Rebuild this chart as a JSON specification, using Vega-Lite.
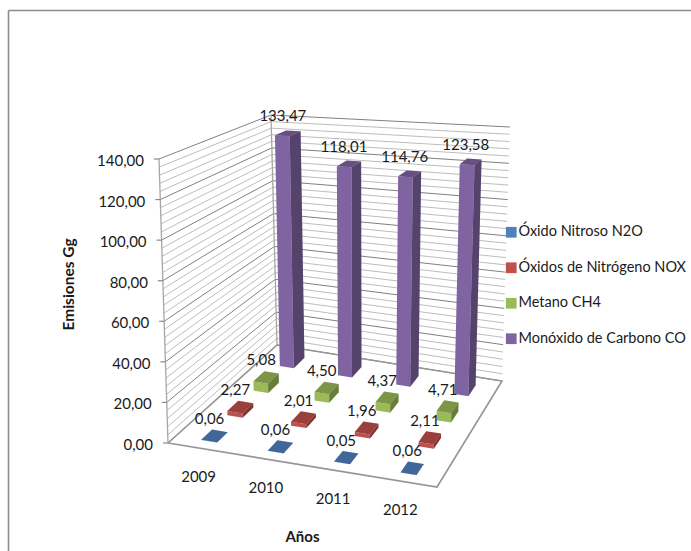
{
  "$schema": "https://vega.github.io/schema/vega-lite/v6.json",
  "width": 691,
  "height": 551,
  "autosize": {"type": "fit", "contains": "padding"},
  "padding": {"left": 8, "top": 10, "right": 0, "bottom": 0},
  "background": "white",
  "config": {"view": {"stroke": null}, "text": {"font": "Lato", "fontSize": 15, "fill": "#1a1a1a"}},
  "datasets": {
    "emisiones": [
      {"year": 2009, "series": "Óxido Nitroso N2O", "value": 0.06},
      {"year": 2010, "series": "Óxido Nitroso N2O", "value": 0.06},
      {"year": 2011, "series": "Óxido Nitroso N2O", "value": 0.05},
      {"year": 2012, "series": "Óxido Nitroso N2O", "value": 0.06},
      {"year": 2009, "series": "Óxidos de Nitrógeno NOX", "value": 2.27},
      {"year": 2010, "series": "Óxidos de Nitrógeno NOX", "value": 2.01},
      {"year": 2011, "series": "Óxidos de Nitrógeno NOX", "value": 1.96},
      {"year": 2012, "series": "Óxidos de Nitrógeno NOX", "value": 2.11},
      {"year": 2009, "series": "Metano CH4", "value": 5.08},
      {"year": 2010, "series": "Metano CH4", "value": 4.5},
      {"year": 2011, "series": "Metano CH4", "value": 4.37},
      {"year": 2012, "series": "Metano CH4", "value": 4.71},
      {"year": 2009, "series": "Monóxido de Carbono CO", "value": 133.47},
      {"year": 2010, "series": "Monóxido de Carbono CO", "value": 118.01},
      {"year": 2011, "series": "Monóxido de Carbono CO", "value": 114.76},
      {"year": 2012, "series": "Monóxido de Carbono CO", "value": 123.58}
    ],
    "escala": [
      {"tick": 0}, {"tick": 4}, {"tick": 8}, {"tick": 12}, {"tick": 16}, {"tick": 20},
      {"tick": 24}, {"tick": 28}, {"tick": 32}, {"tick": 36}, {"tick": 40},
      {"tick": 44}, {"tick": 48}, {"tick": 52}, {"tick": 56}, {"tick": 60},
      {"tick": 64}, {"tick": 68}, {"tick": 72}, {"tick": 76}, {"tick": 80},
      {"tick": 84}, {"tick": 88}, {"tick": 92}, {"tick": 96}, {"tick": 100},
      {"tick": 104}, {"tick": 108}, {"tick": 112}, {"tick": 116}, {"tick": 120},
      {"tick": 124}, {"tick": 128}, {"tick": 132}, {"tick": 136}, {"tick": 140}
    ]
  },
  "encoding": {
    "x": {
      "field": "sx", "type": "quantitative",
      "scale": {"domain": [8, 691], "nice": false, "zero": false},
      "axis": {"orient": "top", "title": "Años", "labels": false, "ticks": false, "grid": false,
        "domainColor": "#8c8c8c", "domainWidth": 1.6,
        "titleFont": "Lato", "titleFontSize": 15, "titleFontWeight": "bold", "titleColor": "#1a1a1a",
        "titleAlign": "center", "titleBaseline": "middle", "titleX": 294, "titleY": 526}
    },
    "y": {
      "field": "sy", "type": "quantitative",
      "scale": {"domain": [551, 10], "nice": false, "zero": false},
      "axis": {"orient": "left", "title": "Emisiones Gg", "labels": false, "ticks": false, "grid": false,
        "domainColor": "#8c8c8c", "domainWidth": 1.6,
        "titleFont": "Lato", "titleFontSize": 15.5, "titleFontWeight": "bold", "titleColor": "#1a1a1a",
        "titleAlign": "center", "titleBaseline": "middle", "titleX": 60, "titleY": 274}
    }
  },
  "layer": [
    {
      "data": {"name": "escala"},
      "transform": [
        {"calculate": "[0,1,2]", "as": "vertex"},
        {"flatten": ["vertex"]},
        {"calculate": "datum.vertex==2?1:0", "as": "u"},
        {"calculate": "datum.vertex==0?0:1", "as": "v"},
        {"calculate": "datum.tick/140", "as": "w"},
        {"calculate": "(1-datum.u)*(1-datum.v)*(168-9*datum.w)+datum.u*(1-datum.v)*(437+10*datum.w)+(1-datum.u)*datum.v*(277-6*datum.w)+datum.u*datum.v*(502+8*datum.w)", "as": "sx"},
        {"calculate": "(1-datum.u)*(1-datum.v)*(443-284*datum.w)+datum.u*(1-datum.v)*(487-310*datum.w)+(1-datum.u)*datum.v*(345-230*datum.w)+datum.u*datum.v*(381-254*datum.w)", "as": "sy"}
      ],
      "mark": {"type": "line", "strokeWidth": 1},
      "encoding": {
        "detail": {"field": "tick"},
        "order": {"field": "vertex"},
        "stroke": {"condition": {"test": "datum.tick%20==0", "value": "#808080"}, "value": "#bdbdbd"}
      }
    },
    {
      "data": {"name": "escala"},
      "transform": [
        {"calculate": "[0,1]", "as": "edge"},
        {"flatten": ["edge"]},
        {"calculate": "0", "as": "u"},
        {"calculate": "datum.edge", "as": "v"},
        {"calculate": "datum.tick/140", "as": "w"},
        {"calculate": "(1-datum.u)*(1-datum.v)*(168-9*datum.w)+datum.u*(1-datum.v)*(437+10*datum.w)+(1-datum.u)*datum.v*(277-6*datum.w)+datum.u*datum.v*(502+8*datum.w)", "as": "sx"},
        {"calculate": "(1-datum.u)*(1-datum.v)*(443-284*datum.w)+datum.u*(1-datum.v)*(487-310*datum.w)+(1-datum.u)*datum.v*(345-230*datum.w)+datum.u*datum.v*(381-254*datum.w)", "as": "sy"}
      ],
      "mark": {"type": "line", "strokeWidth": 1.3, "stroke": "#a6a6a6"},
      "encoding": {"detail": {"field": "edge"}, "order": {"field": "tick"}}
    },
    {
      "data": {"name": "escala"},
      "transform": [
        {"filter": "datum.tick==0"},
        {"calculate": "[0,1,2,3,4]", "as": "vertex"},
        {"flatten": ["vertex"]},
        {"calculate": "(datum.vertex==1||datum.vertex==2)?1:0", "as": "u"},
        {"calculate": "(datum.vertex==2||datum.vertex==3)?1:0", "as": "v"},
        {"calculate": "0", "as": "w"},
        {"calculate": "(1-datum.u)*(1-datum.v)*(168-9*datum.w)+datum.u*(1-datum.v)*(437+10*datum.w)+(1-datum.u)*datum.v*(277-6*datum.w)+datum.u*datum.v*(502+8*datum.w)", "as": "sx"},
        {"calculate": "(1-datum.u)*(1-datum.v)*(443-284*datum.w)+datum.u*(1-datum.v)*(487-310*datum.w)+(1-datum.u)*datum.v*(345-230*datum.w)+datum.u*datum.v*(381-254*datum.w)", "as": "sy"}
      ],
      "mark": {"type": "line", "strokeWidth": 1.6, "stroke": "#969696"},
      "encoding": {"order": {"field": "vertex"}}
    },
    {
      "data": {"name": "escala"},
      "transform": [
        {"filter": "datum.tick%20==0"},
        {"calculate": "168-9*datum.tick/140", "as": "sx"},
        {"calculate": "443-284*datum.tick/140", "as": "sy"},
        {"calculate": "datum.sx-5", "as": "tx"}
      ],
      "mark": {"type": "rule", "stroke": "#8a8a8a", "strokeWidth": 1.2},
      "encoding": {"x2": {"field": "tx"}}
    },
    {
      "data": {"name": "escala"},
      "transform": [
        {"filter": "datum.tick%20==0"},
        {"calculate": "168-9*datum.tick/140", "as": "sx"},
        {"calculate": "443-284*datum.tick/140", "as": "sy"},
        {"calculate": "replace(format(datum.tick,'.2f'),'.',',')", "as": "label"}
      ],
      "mark": {"type": "text", "align": "right", "baseline": "middle", "dx": -15, "dy": 2},
      "encoding": {"text": {"field": "label"}}
    },
    {
      "data": {"name": "emisiones"},
      "transform": [
        {"calculate": "['front','side','top']", "as": "face"},
        {"flatten": ["face"]},
        {"calculate": "[0,1,2,3]", "as": "corner"},
        {"flatten": ["corner"]},
        {"calculate": "(datum.year-2009+0.5)/4+0.03*(datum.face=='side'?1:((datum.corner==0||datum.corner==3)?-1:1))", "as": "u"},
        {"calculate": "(indexof(['Óxido Nitroso N2O','Óxidos de Nitrógeno NOX','Metano CH4','Monóxido de Carbono CO'],datum.series)+0.5)/4+0.052*(datum.face=='front'?-1:(datum.face=='side'?((datum.corner==0||datum.corner==3)?-1:1):(datum.corner<2?-1:1)))", "as": "v"},
        {"calculate": "datum.value/140*((datum.face=='top'||datum.corner>=2)?1:0)", "as": "w"},
        {"calculate": "(1-datum.u)*(1-datum.v)*(168-9*datum.w)+datum.u*(1-datum.v)*(437+10*datum.w)+(1-datum.u)*datum.v*(277-6*datum.w)+datum.u*datum.v*(502+8*datum.w)", "as": "sx"},
        {"calculate": "(1-datum.u)*(1-datum.v)*(443-284*datum.w)+datum.u*(1-datum.v)*(487-310*datum.w)+(1-datum.u)*datum.v*(345-230*datum.w)+datum.u*datum.v*(381-254*datum.w)", "as": "sy"}
      ],
      "mark": {"type": "line", "strokeWidth": 0, "fillOpacity": 1},
      "encoding": {
        "detail": [{"field": "year"}, {"field": "face"}],
        "order": {"field": "corner"},
        "fill": {
          "field": "series", "type": "nominal",
          "scale": {
            "domain": ["Óxido Nitroso N2O", "Óxidos de Nitrógeno NOX", "Metano CH4", "Monóxido de Carbono CO"],
            "range": ["#4F81BD", "#C0504D", "#9BBB59", "#8064A2"]
          },
          "legend": {
            "orient": "none", "legendX": 496, "legendY": 215, "title": null,
            "symbolType": "square", "symbolSize": 115, "symbolStrokeWidth": 0,
            "labelFont": "Lato", "labelFontSize": 14.5, "labelColor": "#1a1a1a", "labelLimit": 190,
            "labelOffset": 0, "rowPadding": 20.5, "padding": 0
          }
        }
      }
    },
    {
      "data": {"name": "emisiones"},
      "transform": [
        {"calculate": "['side','top']", "as": "face"},
        {"flatten": ["face"]},
        {"calculate": "[0,1,2,3]", "as": "corner"},
        {"flatten": ["corner"]},
        {"calculate": "(datum.year-2009+0.5)/4+0.03*(datum.face=='side'?1:((datum.corner==0||datum.corner==3)?-1:1))", "as": "u"},
        {"calculate": "(indexof(['Óxido Nitroso N2O','Óxidos de Nitrógeno NOX','Metano CH4','Monóxido de Carbono CO'],datum.series)+0.5)/4+0.052*(datum.face=='side'?((datum.corner==0||datum.corner==3)?-1:1):(datum.corner<2?-1:1))", "as": "v"},
        {"calculate": "datum.value/140*((datum.face=='top'||datum.corner>=2)?1:0)", "as": "w"},
        {"calculate": "(1-datum.u)*(1-datum.v)*(168-9*datum.w)+datum.u*(1-datum.v)*(437+10*datum.w)+(1-datum.u)*datum.v*(277-6*datum.w)+datum.u*datum.v*(502+8*datum.w)", "as": "sx"},
        {"calculate": "(1-datum.u)*(1-datum.v)*(443-284*datum.w)+datum.u*(1-datum.v)*(487-310*datum.w)+(1-datum.u)*datum.v*(345-230*datum.w)+datum.u*datum.v*(381-254*datum.w)", "as": "sy"}
      ],
      "mark": {"type": "line", "strokeWidth": 0},
      "encoding": {
        "detail": [{"field": "year"}, {"field": "series"}, {"field": "face"}],
        "order": {"field": "corner"},
        "fill": {"value": "#000000"},
        "fillOpacity": {"condition": {"test": "datum.face=='side'", "value": 0.33}, "value": 0.2}
      }
    },
    {
      "data": {"name": "emisiones"},
      "transform": [
        {"calculate": "(datum.year-2009+0.5)/4", "as": "u"},
        {"calculate": "(indexof(['Óxido Nitroso N2O','Óxidos de Nitrógeno NOX','Metano CH4','Monóxido de Carbono CO'],datum.series)+0.5)/4", "as": "v"},
        {"calculate": "datum.value/140", "as": "w"},
        {"calculate": "(1-datum.u)*(1-datum.v)*(168-9*datum.w)+datum.u*(1-datum.v)*(437+10*datum.w)+(1-datum.u)*datum.v*(277-6*datum.w)+datum.u*datum.v*(502+8*datum.w)", "as": "sx"},
        {"calculate": "(1-datum.u)*(1-datum.v)*(443-284*datum.w)+datum.u*(1-datum.v)*(487-310*datum.w)+(1-datum.u)*datum.v*(345-230*datum.w)+datum.u*datum.v*(381-254*datum.w)", "as": "sy"},
        {"calculate": "replace(format(datum.value,'.2f'),'.',',')", "as": "label"}
      ],
      "mark": {"type": "text", "align": "center", "baseline": "middle", "dx": -5, "dy": -17},
      "encoding": {"text": {"field": "label"}}
    },
    {
      "data": {"name": "emisiones"},
      "transform": [
        {"filter": "datum.series=='Óxido Nitroso N2O'"},
        {"calculate": "(datum.year-2009+0.5)/4", "as": "u"},
        {"calculate": "168*(1-datum.u)+437*datum.u", "as": "sx"},
        {"calculate": "443*(1-datum.u)+487*datum.u", "as": "sy"},
        {"calculate": "''+datum.year", "as": "label"}
      ],
      "mark": {"type": "text", "align": "center", "baseline": "middle", "dx": -3, "dy": 28},
      "encoding": {"text": {"field": "label"}}
    }
  ]
}
